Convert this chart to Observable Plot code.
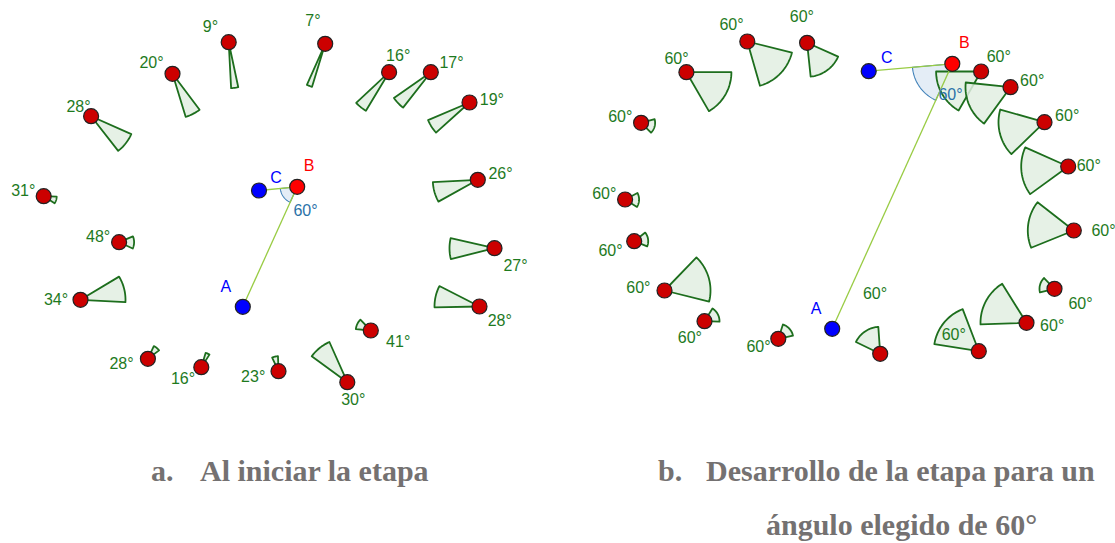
<!DOCTYPE html>
<html>
<head>
<meta charset="utf-8">
<script src="https://cdn.jsdelivr.net/npm/d3@7"></script>
<script src="https://cdn.jsdelivr.net/npm/@observablehq/plot@0.6"></script>
<style>
  html, body { margin: 0; padding: 0; background: #fff; }
  #wrap { position: relative; width: 1115px; height: 543px; overflow: hidden; }
  .cap { position: absolute; font-family: "Liberation Serif", "Times New Roman", serif; font-weight: bold;
         font-size: 30px; line-height: 30px; color: #747171; white-space: nowrap; }
</style>
</head>
<body>
<div id="wrap"></div>
<script>
// ---------- Panel a: "Al iniciar la etapa" ----------
// red points (figure coordinates)
const aPointsX = [228.2, 324.7, 172, 90.6, 388.6, 430.3, 469, 477.3, 43.2, 118.6, 494, 80, 479, 370.3, 346.8, 278, 200.8, 147.4];
const aPointsY = [41.7, 43.3, 73.3, 115.7, 71.7, 71.7, 102, 179.3, 195.7, 241.7, 247.7, 299.3, 306, 330, 381.7, 370.7, 366.7, 358.3];
// sector start direction (deg, clockwise from +x) and angle value
const aStart = [78, 107, 53, 24, 121, 128, 138, 151, 2, -23, 166, -31, 179, 185, 216, 245, -73, -65];
const aAngle = [9, 7, 20, 28, 16, 17, 19, 26, 31, 48, 27, 34, 28, 41, 30, 23, 16, 28];
const aRadius = [46, 45, 45, 44, 45, 45, 45, 45, 13, 15, 45, 45, 45, 15, 44, 15, 15, 14];
const aLabelX = [210, 312.4, 151, 78, 397.7, 451, 491.4, 500, 22.8, 97.6, 515, 55.5, 499.3, 397.7, 352.8, 252.7, 182.5, 121];
const aLabelY = [26.7, 20.7, 62.7, 106, 55.7, 62.3, 99.3, 173, 190, 236.7, 265, 299, 320.7, 341.7, 399.3, 376, 378.3, 363.3];
// construction points A, B, C
const aA = [242.3, 306.3], aB = [296.7, 186.3], aC = [258.5, 190];

// ---------- Panel b: "Desarrollo de la etapa para un ángulo elegido de 60°" ----------
const bPointsX = [685.9, 746.8, 806.6, 980.6, 1010, 1044, 1067.7, 1073.3, 1054, 1026, 978.3, 879.7, 777.8, 704, 664, 633.7, 624.6, 640.6];
const bPointsY = [71.7, 41, 42.3, 71, 86.7, 121.7, 166, 230, 288.3, 322.3, 350.7, 353.3, 338.3, 320.7, 290, 240.7, 199, 122.3];
const bStart = [0, 14, 24, 120, 126, 136, 144, 158, 166, 178, 189, 206, -72, -58, -46, -38, -28, -15];
const bAngle = [60, 60, 60, 60, 60, 60, 60, 60, 60, 60, 60, 60, 60, 60, 60, 60, 60, 60];
const bRadius = [45, 46, 34, 45, 45, 46, 47, 46, 15, 46, 45, 27, 15, 15, 46, 14, 14, 14];
const bLabelX = [676, 731, 801.4, 998.3, 1031.7, 1066.7, 1088.3, 1103, 1080, 1051.7, 953.3, 874.5, 758, 689.4, 637.9, 610, 603.8, 619.8];
const bLabelY = [58.3, 24, 16.7, 56.7, 80.7, 115, 165, 230, 303.3, 325, 334, 293.3, 346.7, 337.3, 287.3, 250.7, 193.3, 116];
const bA = [831.7, 328.3], bB = [951.8, 63.3], bC = [868.2, 70.7];

const chosenAngle = 60;
const captions = ["a.", "Al iniciar la etapa", "b.", "Desarrollo de la etapa para un", "ángulo elegido de 60°"];

// ---------- build tables ----------
function sectors(xs, ys, st, ang, rad, prefix) {
  const out = [];
  xs.forEach((cx, i) => {
    const id = prefix + i, cy = ys[i], r = rad[i];
    out.push({id, x: cx, y: cy});
    const n = Math.max(6, Math.ceil(ang[i] / 2));
    for (let k = 0; k <= n; k++) {
      const t = (st[i] + ang[i] * k / n) * Math.PI / 180;
      out.push({id, x: cx + r * Math.cos(t), y: cy + r * Math.sin(t)});
    }
    out.push({id, x: cx, y: cy});
  });
  return out;
}
function dirDeg(from, to) { return Math.atan2(to[1] - from[1], to[0] - from[0]) * 180 / Math.PI; }
function angleAt(B, A, C, r, id) {
  const s = dirDeg(B, A), e = dirDeg(B, C);
  return sectors([B[0]], [B[1]], [s], [e - s], [r], id);
}

const greenSectors = [
  ...sectors(aPointsX, aPointsY, aStart, aAngle, aRadius, "a"),
  ...sectors(bPointsX, bPointsY, bStart, bAngle, bRadius, "b")
];
const blueSectors = [...angleAt(aB, aA, aC, 17, "ba"), ...angleAt(bB, bA, bC, 40, "bb")];
const segs = [
  {x1: aC[0], y1: aC[1], x2: aB[0], y2: aB[1]}, {x1: aB[0], y1: aB[1], x2: aA[0], y2: aA[1]},
  {x1: bC[0], y1: bC[1], x2: bB[0], y2: bB[1]}, {x1: bB[0], y1: bB[1], x2: bA[0], y2: bA[1]}
];
const redPts = [
  ...aPointsX.map((x, i) => ({x, y: aPointsY[i]})),
  ...bPointsX.map((x, i) => ({x, y: bPointsY[i]}))
];
const greenLabels = [
  ...aLabelX.map((x, i) => ({x, y: aLabelY[i], t: aAngle[i] + "°"})),
  ...bLabelX.map((x, i) => ({x, y: bLabelY[i], t: bAngle[i] + "°"}))
];
const namedPts = [
  {x: aA[0], y: aA[1], n: "A", c: "#0000ff", lx: aA[0] - 17, ly: aA[1] - 20},
  {x: aC[0], y: aC[1], n: "C", c: "#0000ff", lx: aC[0] + 17, ly: aC[1] - 13},
  {x: aB[0], y: aB[1], n: "B", c: "#ff0000", lx: aB[0] + 12, ly: aB[1] - 21},
  {x: bA[0], y: bA[1], n: "A", c: "#0000ff", lx: bA[0] - 16, ly: bA[1] - 20},
  {x: bC[0], y: bC[1], n: "C", c: "#0000ff", lx: bC[0] + 18, ly: bC[1] - 13},
  {x: bB[0], y: bB[1], n: "B", c: "#ff0000", lx: bB[0] + 12, ly: bB[1] - 21}
];
const blueLabels = [
  {x: 305, y: 210, t: chosenAngle + "°"},
  {x: 950, y: 94, t: chosenAngle + "°"}
];

const plot = Plot.plot({
  width: 1115, height: 440,
  margin: 0,
  x: {domain: [0, 1115], range: [0, 1115], axis: null},
  y: {domain: [0, 440], range: [0, 440], axis: null},
  style: {background: "white", overflow: "visible"},
  marks: [
    Plot.line(blueSectors, {x: "x", y: "y", z: "id", fill: "#dfeaf4", fillOpacity: 0.85, stroke: "#3f80b8", strokeWidth: 1.1, curve: "linear"}),
    Plot.line(greenSectors, {x: "x", y: "y", z: "id", fill: "#e2eee2", fillOpacity: 0.85, stroke: "#1d6e1d", strokeWidth: 1.8, curve: "linear", strokeLinejoin: "round"}),
    Plot.link(segs, {x1: "x1", y1: "y1", x2: "x2", y2: "y2", stroke: "#99cc44", strokeWidth: 1.3}),
    Plot.text(greenLabels, {x: "x", y: "y", text: "t", fill: "#1e7a1e", fontSize: 16, fontFamily: "Liberation Sans, Arial, sans-serif"}),
    Plot.text(blueLabels, {x: "x", y: "y", text: "t", fill: "#2a72a8", fontSize: 16, fontFamily: "Liberation Sans, Arial, sans-serif"}),
    Plot.dot(redPts, {x: "x", y: "y", r: 7.5, fill: "#cc0000", stroke: "#222", strokeWidth: 1.2}),
    Plot.dot(namedPts, {x: "x", y: "y", r: 7.5, fill: "c", stroke: "#222", strokeWidth: 1.2}),
    Plot.text(namedPts, {x: "lx", y: "ly", text: "n", fill: "c", fontSize: 16, fontFamily: "Liberation Sans, Arial, sans-serif"})
  ]
});
const wrap = document.getElementById("wrap");
wrap.appendChild(plot);

const capPos = [[151, 456], [200, 456], [658, 456], [706, 456], [766, 510]];
captions.forEach((t, i) => {
  const d = document.createElement("div");
  d.className = "cap";
  d.textContent = t;
  d.style.left = capPos[i][0] + "px";
  d.style.top = capPos[i][1] + "px";
  wrap.appendChild(d);
});
</script>
</body>
</html>
